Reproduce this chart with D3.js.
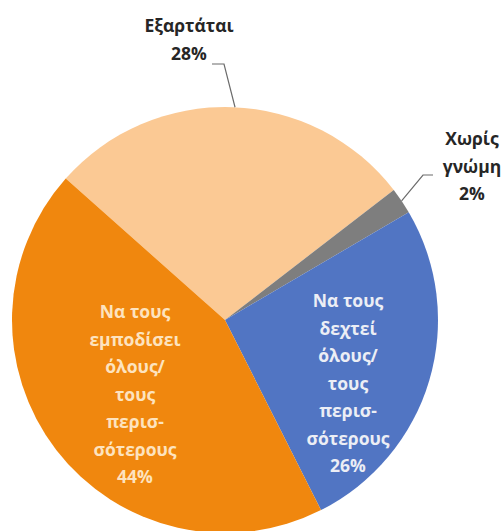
<!DOCTYPE html>
<html><head><meta charset="utf-8">
<script src="https://cdn.jsdelivr.net/npm/d3@7"></script>
<style>body{margin:0;background:#fff}svg{display:block}</style>
</head><body>
<script>
// ---- data ----
const categories = ["Εξαρτάται", "Χωρίς γνώμη", "Να τους δεχτεί όλους/τους περισσότερους", "Να τους εμποδίσει όλους/τους περισσότερους"];
const values = [28, 2, 26, 44];
const labelLines = [
  ["Εξαρτάται", "28%"],
  ["Χωρίς", "γνώμη", "2%"],
  ["Να τους", "δεχτεί", "όλους/", "τους", "περισ-", "σότερους", "26%"],
  ["Να τους", "εμποδίσει", "όλους/", "τους", "περισ-", "σότερους", "44%"]
];
const colors = ["#FBC994", "#7E7E7E", "#5175C3", "#F0870E"];

// ---- layout ----
const W = 502, H = 531;
const cx = 225, cy = 320, R = 213;
const startDeg = -48.4;
const font = "'Open Sans', sans-serif";
const fontSize = 17.5, lineH = 27.5;

const svg = d3.select("body").append("svg").attr("width", W).attr("height", H);
const g = svg.append("g").attr("transform", `translate(${cx},${cy})`);

const pie = d3.pie().sort(null).value(d => d)
  .startAngle(startDeg * Math.PI / 180)
  .endAngle((startDeg + 360) * Math.PI / 180);
const arcs = pie(values);
const arc = d3.arc().innerRadius(0).outerRadius(R);

g.selectAll("path.slice").data(arcs).enter().append("path")
  .attr("class", "slice")
  .attr("d", arc)
  .attr("fill", (d, i) => colors[i]);

// label placement (positions relative to pie centre)
const labelCfg = [
  {x: 189 - cx, y: 32 - cy, fill: "#262626", inside: false, leaderAngle: 2.7, elbow: [[212 - cx, 64 - cy], [224 - cx, 64 - cy]]},
  {x: 472 - cx, y: 145 - cy, fill: "#262626", inside: false, leaderAngle: 56, elbow: [[433 - cx, 175 - cy], [423 - cx, 175 - cy]]},
  {x: 348 - cx, y: 307 - cy, fill: "#ECEEF5", inside: true},
  {x: 135 - cx, y: 318 - cy, fill: "#FDE3BF", inside: true}
];

arcs.forEach((a, i) => {
  const c = labelCfg[i];
  const t = g.append("text")
    .attr("text-anchor", "middle")
    .attr("font-family", font)
    .attr("font-weight", 700)
    .attr("font-size", fontSize)
    .attr("fill", c.fill);
  labelLines[i].forEach((ln, k) => {
    t.append("tspan").attr("x", c.x).attr("y", c.y + k * lineH).text(ln);
  });
  if (!c.inside) {
    const ang = c.leaderAngle * Math.PI / 180;
    const ex = Math.sin(ang) * R, ey = -Math.cos(ang) * R;
    const pts = [...c.elbow, [ex, ey]];
    g.append("path")
      .attr("d", d3.line()(pts))
      .attr("fill", "none")
      .attr("stroke", "#6b6b6b")
      .attr("stroke-width", 1.2);
  }
});
</script>
</body></html>
